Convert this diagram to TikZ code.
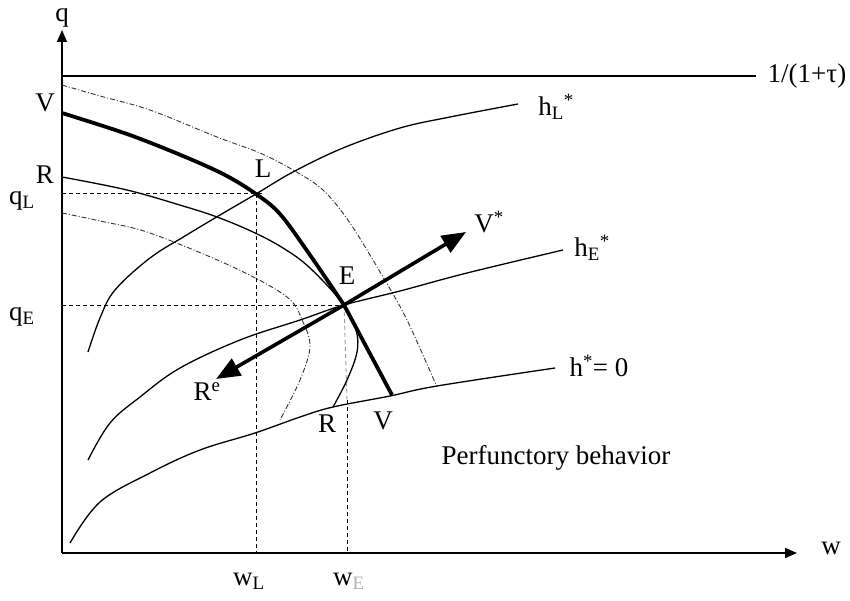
\documentclass[tikz,border=0pt]{standalone}
\usepackage{fontspec}
\setmainfont{Liberation Serif}
\usetikzlibrary{arrows.meta}
\begin{document}
\begin{tikzpicture}[x=1pt,y=-1pt,
  lbl/.style={font=\fontsize{27}{31}\selectfont, inner sep=0pt},
  thin curve/.style={line width=1.3pt, line join=round},
  thick curve/.style={line width=3.8pt, line join=round},
  guide/.style={line width=1pt, dash pattern=on 4pt off 3pt},
  iso/.style={line width=0.9pt, black!80, dash pattern=on 5pt off 2pt on 1pt off 2pt},
  axis/.style={line width=1.8pt, -{Triangle[length=12pt,width=10pt]}},
  bigarrow/.style={line width=3.6pt, -{Triangle[length=24pt,width=19pt]}}]
\useasboundingbox (0,0) rectangle (850,601);
\coordinate (O) at (62,553);
\coordinate (E) at (344,305);
\coordinate (L) at (256,194);
% axes
\draw[axis] (O) -- (62,30) node[lbl, above=2pt] (qlab) {q};
\draw[axis] (O) -- (797,553);
\node[lbl] (wlab) at (831,548) {w};
% tau line
\draw[line width=1.4pt] (62,76) -- (756,76) node[lbl, right=11pt] (tau) {1/(1+τ)};
% guides
\draw[guide] (62,194) -- (L) -- (265,194);
\draw[guide] (62,305) -- (E);
\draw[line width=0.9pt, dash pattern=on 4pt off 3pt] (L) -- (256,553);
\draw[line width=0.9pt, black!40, dash pattern=on 4pt off 3pt] (E) -- (347,400);
\draw[line width=0.9pt, dash pattern=on 4pt off 3pt] (347,400) -- (347,553);
% iso curves (dash dot)
\draw[iso] plot[smooth, tension=0.55] coordinates {(62,85) (100,96) (150,110) (217,137) (260,153) (293,170) (323,190) (350,223) (383,277) (407,320) (437,387)};
\draw[iso] plot[smooth, tension=0.55] coordinates {(62,213) (100,221) (150,233) (233,267) (287,297) (303,322) (310,347) (300,380) (280,420)};
% h curves
\draw[thin curve] plot[smooth, tension=0.6] coordinates {(88,352) (100,318) (115,290) (150,258) (185,236) (220,215) (256,194) (293,172) (343,148) (400,128) (450,117) (518,104)};
\draw[thin curve] plot[smooth, tension=0.6] coordinates {(88,460) (110,423) (140,397) (180,368) (240,340) (300,320) (344,305) (400,291) (467,273) (563,250)};
\draw[thin curve] plot[smooth, tension=0.6] coordinates {(70,543) (100,502) (150,473) (200,450) (255,433) (300,417) (333,407) (390,396) (437,386) (555,368)};
% R curve
\draw[thin curve] plot[smooth, tension=0.6] coordinates {(62,177) (127,190) (183,206) (217,217) (253,232) (283,248) (310,268) (344,305) (356,330) (357,352) (347,380) (333,407)};
% V curve (thick)
\draw[thick curve] plot[smooth, tension=0.55] coordinates {(62,113) (127,134) (183,156) (225,175) (256,194) (280,214) (310,255) (344,305)} -- (392,395);
% big arrows
\draw[bigarrow] (E) -- (466,232);
\draw[bigarrow] (E) -- (216,379);
% labels
\node[lbl] (Vtop) at (45,103) {V};
\node[lbl] (Rtop) at (45,175) {R};
\node[lbl] (qL) at (22,201) {q\textsubscript{L}};
\node[lbl] (qE) at (22,317) {q\textsubscript{E}};
\node[lbl] (Llab) at (263,169) {L};
\node[lbl] (Elab) at (347,276) {E};
\node[lbl] (Vstar) at (489,222) {V\textsuperscript{*}};
\node[lbl] (Re) at (207,392) {R\textsuperscript{e}};
\node[lbl] (Rbot) at (327,424) {R};
\node[lbl] (Vbot) at (383,421) {V};
\node[lbl] (hL) at (556,107) {h\textsubscript{L}\textsuperscript{*}};
\node[lbl] (hE) at (592,248) {h\textsubscript{E}\textsuperscript{*}};
\node[lbl] (h0) at (599,366) {h\textsuperscript{*}= 0};
\node[lbl] (perf) at (556,458) {Perfunctory behavior};
\node[lbl] (wL) at (249,581) {w\textsubscript{L}};
\node[lbl] (wE) at (349,581) {w\textsubscript{\textcolor{black!30}{E}}};
\end{tikzpicture}
\end{document}
